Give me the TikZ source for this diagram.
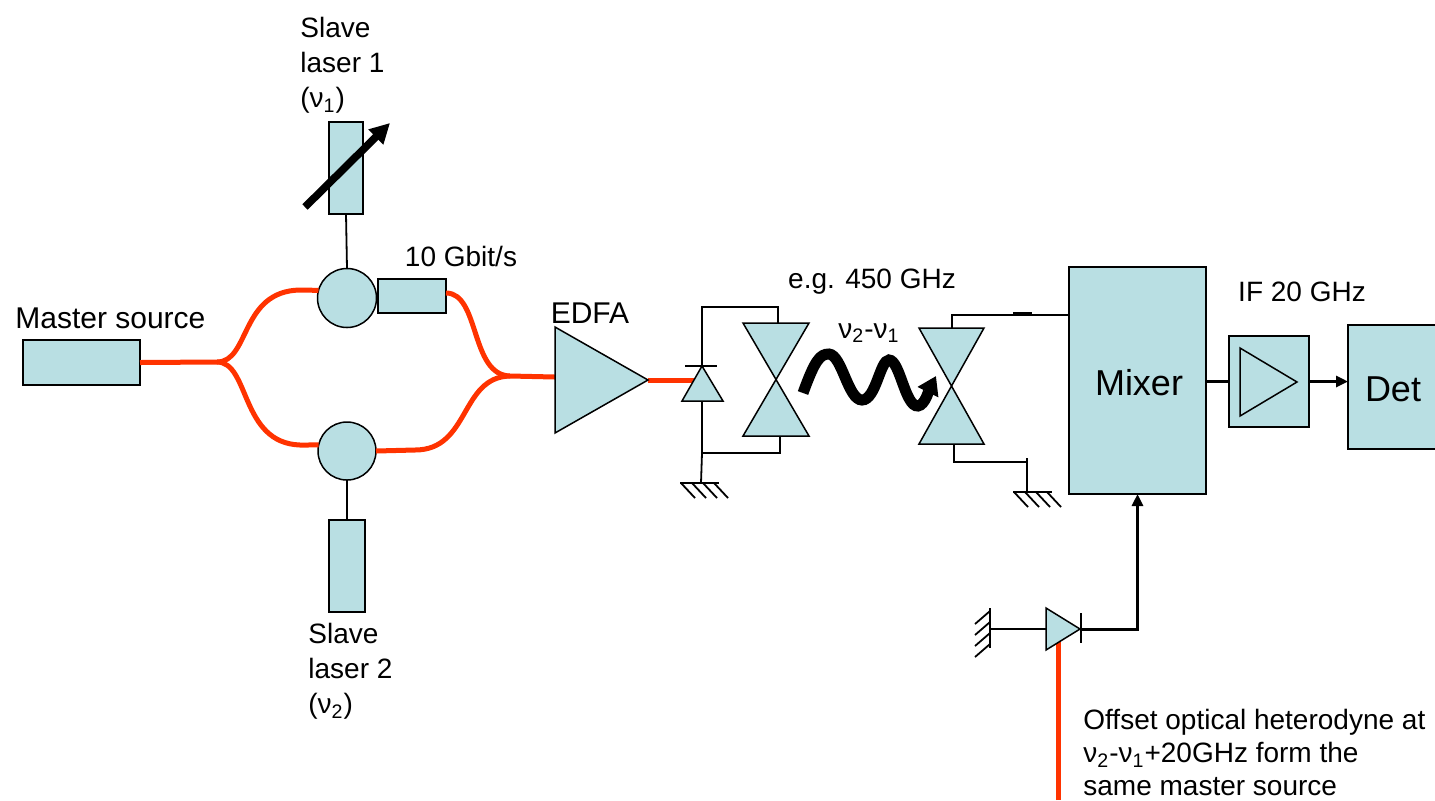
\documentclass[tikz,border=0pt]{standalone}
\usepackage{fontspec}
\setmainfont{Liberation Sans}
\usetikzlibrary{arrows.meta}
\definecolor{boxfill}{RGB}{185,223,227}
\definecolor{fibrered}{RGB}{255,51,0}
\begin{document}
\begin{tikzpicture}[x=0.5pt,y=-0.5pt]
        \tikzset{box/.style={draw,fill=boxfill,line width=0.75pt,inner sep=0pt,outer sep=0pt},
            fibre/.style={draw=fibrered,line width=2.5pt},
            wire/.style={draw,line width=0.9pt},
            sig/.style={draw,line width=1.5pt,-{Triangle[length=6pt,width=5.5pt]}},
            lbl/.style={font=\fontsize{14}{17.5}\selectfont,inner sep=0pt,align=left},
            mid/.style={font=\fontsize{15}{18}\selectfont,inner sep=0pt},
            big/.style={font=\fontsize{18}{22}\selectfont,inner sep=0pt}}
        \useasboundingbox (0,0) rectangle (1435,800);
        % boxes
        \node[box,minimum width=58.5pt,minimum height=22.5pt] (master) at (81.5,362.5) {};
        \node[box,minimum width=17pt,minimum height=46pt] (slave1) at (346,168) {};
        \node[box,minimum width=18pt,minimum height=46pt] (slave2) at (347,566) {};
        \node[box,circle,minimum size=29.5pt] (coup1) at (347,298) {};
        \node[box,circle,minimum size=29pt] (coup2) at (347,451) {};
        \node[box,minimum width=34pt,minimum height=17pt] (modul) at (412,296) {};
        \node[box,minimum width=68.5pt,minimum height=113.5pt] (mixer) at (1137.5,380.5) {};
        \node[box,minimum width=40pt,minimum height=45.5pt] (ifamp) at (1269,381.5) {};
        \node[box,minimum width=61pt,minimum height=62pt] (det) at (1409,387) {};
        \draw[line width=0.75pt] (1240,348) -- (1297,382) -- (1240,416) -- cycle;
        % fibres
        \draw[fibre] (master.east) -- (217,362) .. controls (250,362) and (240,291) .. (300,290) -- (coup1.165);
        \draw[fibre] (217,362) .. controls (250,362) and (240,443) .. (300,445) -- (coup2.168);
        \draw[fibre] (modul.east) ++(0,-3) .. controls (480,293) and (470,375) .. (510,376) -- (555,377);
        \draw[fibre] (coup2.east) -- (415,450) .. controls (470,450) and (460,377) .. (510,376);
        \draw[fibre] (648,380) -- (694,380);
        \draw[fibre] (1058,800) -- (1058,642);
        \draw[wire] (slave1.south) -- (coup1.north);
        \draw[wire] (coup2.south) -- (slave2.north);
        \draw[line width=3.8pt,-{Triangle[length=10pt,width=10pt]}] (305,207) -- (390,123);
        % EDFA, photodiodes, antennas
        \draw[box] (555,327) -- (648,380) -- (555,433) -- cycle;
        \draw[box] (702,366) -- (723,401) -- (682,401) -- cycle;
        \draw[wire] (685,366) -- (717,366);
        \draw[box] (743,323) -- (809,323) -- (743,436) -- (809,436) -- cycle;
        \draw[box] (919,328) -- (984,328) -- (919,444) -- (984,444) -- cycle;
        \draw[box] (1046,608) -- (1080,629) -- (1046,650) -- cycle;
        \draw[wire] (1081,613) -- (1081,643);
        % wiring
        \draw[wire] (702,366) -- (702,307) -| (778,323);
        \draw[wire] (702,401) |- (780,453) -- (780,436);
        \draw[wire] (702,453) -- (701,483);
        \draw[wire] (952,328) -- (952,315) -- (1069,315);
        \draw[line width=1.3pt] (1013,313) -- (1032,313);
        \draw[wire] (954,444) |- (1028,462);
        \draw[wire] (1027,458) -- (1027,492);
        \draw[wire] (1046,629) -- (990,629);
        \draw[sig] (1081,629) -| (mixer.south);
        \draw[line width=1.5pt] (ifamp.west -| mixer.east) -- (ifamp.west);
        \draw[sig] (ifamp.east) -- (ifamp.east -| det.west);
        % grounds
        \draw[wire] (680,483) -- (719,483);
        \foreach \i in {0,...,3} \draw[wire] (681+\i*11,483) -- ++(14,15);
        \draw[wire] (1013,492) -- (1052,492);
        \foreach \i in {0,...,3} \draw[wire] (1014+\i*11,492) -- ++(14,15);
        \draw[wire] (990,608) -- (990,648);
        \foreach \i in {0,...,3} \draw[wire] (990,611+\i*11) -- ++(-15,13);
        % THz wave
        \draw[line width=5.5pt,-{Triangle[length=9pt,width=11pt]}] (803,393) .. controls (815,360) and (820,354) .. (829,354)
            .. controls (842,355) and (848,400) .. (862,400) .. controls (876,400) and (880,360) .. (889,360)
            .. controls (900,360) and (905,407) .. (918,406) .. controls (925,405) and (929,390) .. (936,376);
        % labels
        \node[mid,anchor=west] (mastertxt) at (15,318) {Master source};
        \node[lbl,anchor=north west] (slave1txt) at (300,17) {Slave\\laser 1\\(ν\textsubscript{1})};
        \node[lbl,anchor=north west] (slave2txt) at (308,623) {Slave\\laser 2\\(ν\textsubscript{2})};
        \node[lbl] (modtxt) at (461,256) {10 Gbit/s};
        \node[mid] (edfatxt) at (590,313) {EDFA};
        \node[lbl] (freqtxt) at (872,282) {e.g. 450 GHz};
        \node[lbl] (difftxt) at (869,333) {ν\textsubscript{2}-ν\textsubscript{1}};
        \node[big] (mixtxt) at (1139,383) {Mixer};
        \node[lbl] (iftxt) at (1302,292) {IF 20 GHz};
        \node[big] (dettxt) at (1393,389) {Det};
        \node[lbl,anchor=north west,font=\fontsize{14}{16.5}\selectfont] (offtxt) at (1083,709)
            {Offset optical heterodyne at\\ν\textsubscript{2}-ν\textsubscript{1}+20GHz form the\\same master source};
    \end{tikzpicture}
\end{document}
